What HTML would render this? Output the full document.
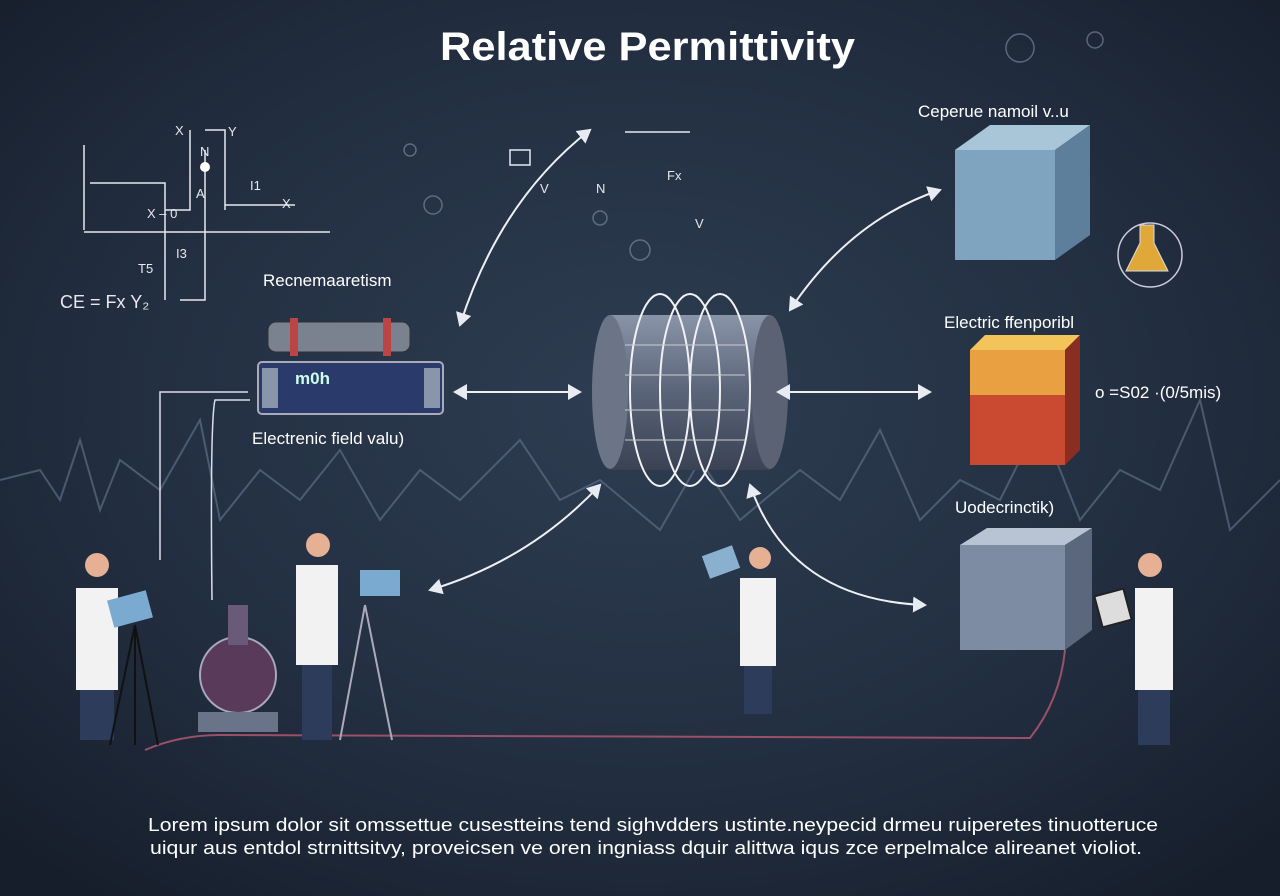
<!DOCTYPE html>
<html><head><meta charset="utf-8"><style>
html,body{margin:0;padding:0;width:1280px;height:896px;overflow:hidden;background:#1c2636}
svg{display:block}
text{font-family:"Liberation Sans",sans-serif}
</style></head><body>
<svg width="1280" height="896" viewBox="0 0 1280 896">
<defs>
<radialGradient id="bg" cx="50%" cy="45%" r="70%"><stop offset="0" stop-color="#2e3d52"/><stop offset="0.6" stop-color="#222e40"/><stop offset="1" stop-color="#161e2b"/></radialGradient>
<linearGradient id="cyl" x1="0" y1="0" x2="0" y2="1"><stop offset="0" stop-color="#8a94a8"/><stop offset="0.5" stop-color="#5a6478"/><stop offset="1" stop-color="#3a4254"/></linearGradient>
<marker id="ah" markerWidth="8" markerHeight="8" refX="6" refY="4" orient="auto-start-reverse"><path d="M0,0 L7,4 L0,8 z" fill="#e8ecf2"/></marker>
</defs>
<rect width="1280" height="896" fill="url(#bg)"/>
<path d="M0,480 L40,470 L60,500 L80,440 L100,510 L120,460 L160,490 L200,420 L220,520 L260,470 L300,500 L340,450 L380,520 L420,470 L460,500 L520,440 L560,500 L600,480 L660,530 L700,460 L740,520 L800,470 L840,500 L880,430 L920,520 L960,480 L1000,500 L1040,420 L1080,520 L1120,470 L1160,490 L1200,400 L1230,530 L1280,480" fill="none" stroke="#5c6d84" stroke-width="2" opacity="0.7"/>
<text x="440" y="60" textLength="415" lengthAdjust="spacingAndGlyphs" font-size="40" font-weight="bold" fill="#fff">Relative Permittivity</text>
<g stroke="#e6e9ee" stroke-width="1.5" fill="none">
<path d="M84,145 V230 M84,232 H330 M90,183 H165 V300 M165,210 H190 V130 M205,130 H225 V210 M205,150 V300 H180 M225,205 H295"/>
<path d="M625,132 H690 M510,150 H530 V165 H510 z"/>
</g>
<circle cx="205" cy="167" r="5" fill="#fff"/>
<g fill="#e6e9ee" font-size="13"><text x="175" y="135">X</text><text x="228" y="136">Y</text><text x="200" y="156">N</text><text x="196" y="198">A</text><text x="250" y="190">I1</text><text x="282" y="208">X</text><text x="147" y="218">X – 0</text><text x="138" y="273">T5</text><text x="176" y="258">I3</text><text x="60" y="308" font-size="18" font-family="Liberation Serif">CE  = Fx  Y₂</text><text x="540" y="193">V</text><text x="596" y="193">N</text><text x="667" y="180">Fx</text><text x="695" y="228">V</text></g>
<g fill="none" stroke="#8592a6" stroke-width="1.5" opacity="0.6"><circle cx="433" cy="205" r="9"/><circle cx="600" cy="218" r="7"/><circle cx="640" cy="250" r="10"/><circle cx="410" cy="150" r="6"/><circle cx="1020" cy="48" r="14"/><circle cx="1095" cy="40" r="8"/></g>
<text x="263" y="286" font-size="17" fill="#fff">Recnemaaretism</text>
<rect x="268" y="322" width="142" height="30" rx="8" fill="#7a8290" stroke="#333" />
<rect x="290" y="318" width="8" height="38" fill="#b44"/><rect x="383" y="318" width="8" height="38" fill="#b44"/>
<rect x="258" y="362" width="185" height="52" rx="4" fill="#2a3a6a" stroke="#aab" stroke-width="2"/>
<rect x="262" y="368" width="16" height="40" fill="#8895aa"/><rect x="424" y="368" width="16" height="40" fill="#8895aa"/>
<text x="295" y="384" font-size="17" fill="#cfe" font-weight="bold">m0h</text>
<text x="252" y="444" font-size="17" fill="#fff">Electrenic field valu)</text>
<rect x="610" y="315" width="160" height="155" fill="url(#cyl)"/>
<ellipse cx="610" cy="392" rx="18" ry="77" fill="#6c7488"/>
<ellipse cx="770" cy="392" rx="18" ry="77" fill="#5a6274"/>
<g fill="none" stroke="#f0f2f6" stroke-width="2"><ellipse cx="660" cy="390" rx="30" ry="96"/><ellipse cx="690" cy="390" rx="30" ry="96"/><ellipse cx="720" cy="390" rx="30" ry="96"/>
<path d="M625,345 H745 M625,375 H745 M625,410 H745 M625,440 H745" stroke="#ccc" stroke-width="1"/></g>
<g stroke="#eef0f4" stroke-width="2" fill="none" marker-end="url(#ah)" marker-start="url(#ah)">
<path d="M455,392 H580"/><path d="M778,392 H930"/>
<path d="M590,130 Q500,200 460,325"/>
<path d="M790,310 Q850,220 940,190"/>
<path d="M600,485 Q530,560 430,590"/>
<path d="M750,485 Q790,600 925,605"/>
</g>
<g stroke="#dde" stroke-width="1.5" fill="none"><path d="M248,392 H160 V560"/><path d="M250,400 H215 Q210,420 212,600"/></g>
<path d="M145,750 Q180,735 220,735 L1030,738 Q1060,700 1065,650" stroke="#9a5068" stroke-width="2" fill="none"/>
<text x="918" y="117" font-size="17" fill="#fff">Ceperue namoil v..u</text>
<polygon points="955,150 1055,150 1090,125 990,125" fill="#a9c6d8"/>
<rect x="955" y="150" width="100" height="110" fill="#7fa4c0"/>
<polygon points="1055,150 1090,125 1090,235 1055,260" fill="#5d7f9c"/>
<circle cx="1150" cy="255" r="32" fill="none" stroke="#ccd" stroke-width="1.5"/>
<path d="M1140,225 h14 v18 l14,28 h-42 l14,-28z" fill="#e0a838" stroke="#ddd"/>
<text x="944" y="328" font-size="17" fill="#fff">Electric ffenporibl</text>
<polygon points="970,350 1065,350 1080,335 985,335" fill="#f2c45a"/>
<rect x="970" y="350" width="95" height="115" fill="#c94a30"/>
<rect x="970" y="350" width="95" height="45" fill="#e8a040"/>
<polygon points="1065,350 1080,335 1080,450 1065,465" fill="#8a2e22"/>
<text x="1095" y="398" font-size="17" fill="#fff">o =S02 ·(0/5mis)</text>
<text x="955" y="513" font-size="17" fill="#fff">Uodecrinctik)</text>
<polygon points="960,545 1065,545 1092,528 987,528" fill="#b8c4d4"/>
<rect x="960" y="545" width="105" height="105" fill="#7d8ca2"/>
<polygon points="1065,545 1092,528 1092,630 1065,650" fill="#5a677c"/>
<g>
<rect x="76" y="588" width="42" height="102" fill="#f2f2f2"/><rect x="80" y="690" width="34" height="50" fill="#2e3c5c"/><circle cx="97" cy="565" r="12" fill="#e6b094"/>
<rect x="110" y="595" width="40" height="28" fill="#7aaad0" transform="rotate(-15 130 609)"/>
<path d="M135,625 L110,745 M135,625 L158,745 M135,625 V745" stroke="#111" stroke-width="2"/>
<rect x="296" y="565" width="42" height="100" fill="#f2f2f2"/><rect x="302" y="665" width="30" height="75" fill="#2e3c5c"/><circle cx="318" cy="545" r="12" fill="#e6b094"/><rect x="360" y="570" width="40" height="26" fill="#7aaad0"/>
<path d="M365,605 L340,740 M365,605 L392,740" stroke="#aab" stroke-width="2"/>
<rect x="740" y="578" width="36" height="88" fill="#f2f2f2"/><rect x="744" y="666" width="28" height="48" fill="#2e3c5c"/><circle cx="760" cy="558" r="11" fill="#e6b094"/>
<rect x="705" y="550" width="32" height="24" fill="#8ab0d0" transform="rotate(-20 721 562)"/>
<rect x="1135" y="588" width="38" height="102" fill="#f2f2f2"/><rect x="1138" y="690" width="32" height="55" fill="#2e3c5c"/><circle cx="1150" cy="565" r="12" fill="#e6b094"/>
<rect x="1098" y="592" width="30" height="32" fill="#ddd" stroke="#222" stroke-width="2" transform="rotate(-15 1113 608)"/>
<circle cx="238" cy="675" r="38" fill="#5a3a5a" stroke="#a8a8c0" stroke-width="2"/><rect x="228" y="605" width="20" height="40" fill="#6a5a7a"/><rect x="198" y="712" width="80" height="20" fill="#6a7488"/>
</g>
<text x="148" y="831" textLength="1010" lengthAdjust="spacingAndGlyphs" font-size="18" fill="#fff">Lorem ipsum dolor sit omssettue cusestteins tend sighvdders ustinte.neypecid drmeu ruiperetes tinuotteruce</text>
<text x="150" y="854" textLength="992" lengthAdjust="spacingAndGlyphs" font-size="18" fill="#fff">uiqur aus entdol strnittsitvy, proveicsen ve oren ingniass dquir alittwa iqus zce erpelmalce alireanet violiot.</text>
</svg>
</body></html>
